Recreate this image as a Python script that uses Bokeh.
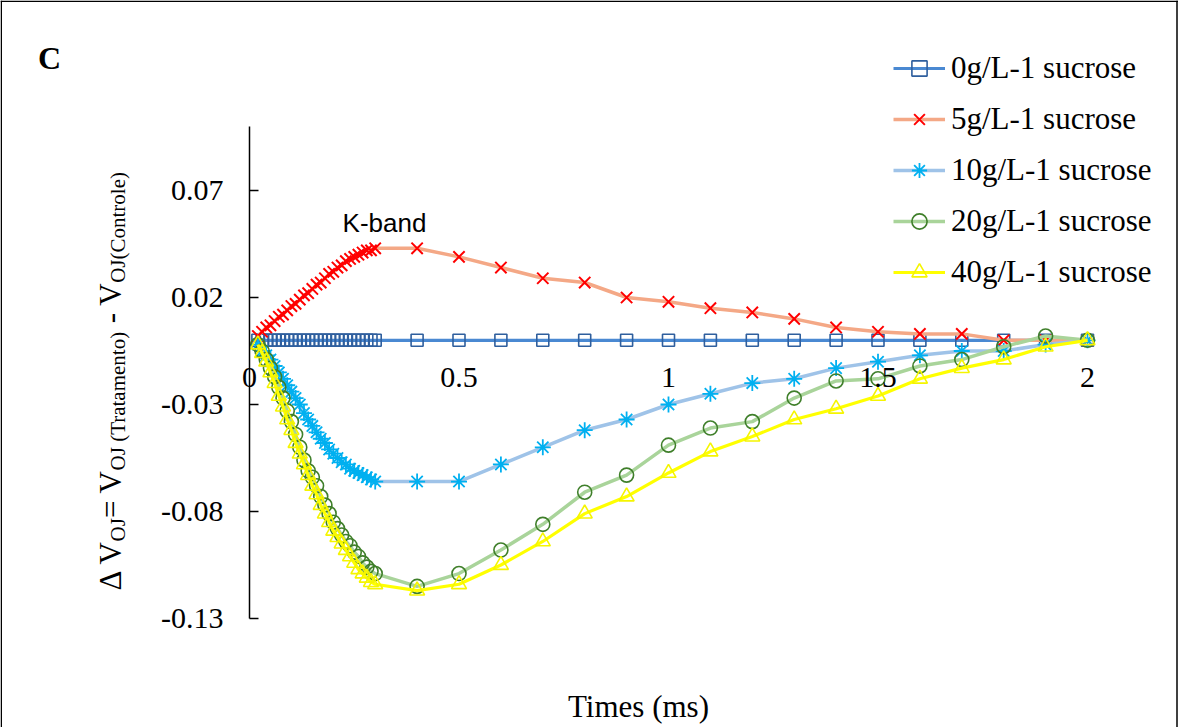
import math
from bokeh.plotting import figure
from bokeh.models import Range1d, FixedTicker, Label, Legend, LegendItem, Span
from bokeh.embed import file_html
from bokeh.resources import INLINE

# ---------------- data ----------------
times = [0.02, 0.03, 0.04, 0.05, 0.06, 0.07, 0.08, 0.09, 0.10, 0.11,
         0.12, 0.13, 0.14, 0.15, 0.16, 0.17, 0.18, 0.19, 0.20, 0.21,
         0.22, 0.23, 0.24, 0.25, 0.26, 0.27, 0.28, 0.29, 0.30,
         0.4, 0.5, 0.6, 0.7, 0.8, 0.9, 1.0, 1.1, 1.2, 1.3, 1.4, 1.5,
         1.6, 1.7, 1.8, 1.9, 2.0]

sucrose_0 = [0.0, 0.0, 0.0, 0.0, 0.0, 0.0, 0.0, 0.0, 0.0, 0.0,
             0.0, 0.0, 0.0, 0.0, 0.0, 0.0, 0.0, 0.0, 0.0, 0.0,
             0.0, 0.0, 0.0, 0.0, 0.0, 0.0, 0.0, 0.0, 0.0,
             0.0, 0.0, 0.0, 0.0, 0.0, 0.0, 0.0, 0.0, 0.0, 0.0, 0.0, 0.0,
             0.0, 0.0, 0.0, 0.0, 0.0]

sucrose_5 = [0.002, 0.004, 0.006, 0.007, 0.009, 0.011, 0.012, 0.014, 0.016, 0.017,
             0.019, 0.021, 0.022, 0.024, 0.026, 0.027, 0.029, 0.031, 0.032, 0.034,
             0.035, 0.037, 0.038, 0.039, 0.040, 0.041, 0.042, 0.042, 0.043,
             0.043, 0.039, 0.034, 0.029, 0.027, 0.020, 0.018, 0.015, 0.013, 0.010,
             0.006, 0.004, 0.003, 0.003, 0.000, 0.000, 0.000]

sucrose_10 = [-0.002, -0.005, -0.007, -0.009, -0.012, -0.015, -0.018, -0.021, -0.024, -0.027,
              -0.030, -0.034, -0.037, -0.040, -0.043, -0.046, -0.048, -0.051, -0.053, -0.055,
              -0.057, -0.058, -0.060, -0.061, -0.062, -0.063, -0.064, -0.065, -0.066,
              -0.066, -0.066, -0.058, -0.050, -0.042, -0.037, -0.030, -0.025, -0.020, -0.018,
              -0.013, -0.010, -0.007, -0.005, -0.005, -0.002, 0.000]

sucrose_20 = [-0.002, -0.005, -0.009, -0.013, -0.017, -0.022, -0.027, -0.033, -0.038, -0.044,
              -0.050, -0.056, -0.061, -0.064, -0.068, -0.073, -0.077, -0.081, -0.085, -0.088,
              -0.091, -0.094, -0.096, -0.099, -0.101, -0.104, -0.106, -0.108, -0.109,
              -0.115, -0.109, -0.098, -0.086, -0.071, -0.063, -0.049, -0.041, -0.038, -0.027,
              -0.019, -0.018, -0.012, -0.009, -0.003, 0.002, 0.000]

sucrose_40 = [-0.002, -0.006, -0.010, -0.015, -0.020, -0.026, -0.031, -0.037, -0.042, -0.048,
              -0.053, -0.058, -0.063, -0.068, -0.072, -0.077, -0.081, -0.085, -0.089, -0.092,
              -0.095, -0.098, -0.101, -0.104, -0.107, -0.109, -0.111, -0.113, -0.114,
              -0.117, -0.114, -0.105, -0.094, -0.081, -0.073, -0.062, -0.052, -0.045, -0.037,
              -0.032, -0.026, -0.018, -0.013, -0.009, -0.003, 0.000]

series_labels = ["0g/L-1 sucrose", "5g/L-1 sucrose", "10g/L-1 sucrose",
                 "20g/L-1 sucrose", "40g/L-1 sucrose"]

x_ticks = [0, 0.5, 1, 1.5, 2]
x_tick_labels = ["0", "0.5", "1", "1.5", "2"]
y_ticks = [-0.13, -0.08, -0.03, 0.02, 0.07]
y_tick_labels = ["-0.13", "-0.08", "-0.03", "0.02", "0.07"]

# ---------------- layout ----------------
W, H = 1178, 727
XPX, YPX = 419.0, 2140.0          # pixels per data unit
XMIN = -249.0 / XPX
XMAX = XMIN + W / XPX
YMAX = 339.8 / YPX
YMIN = YMAX - H / YPX


def dx(px):
    return XMIN + px / XPX


def dy(py):
    return YMAX - py / YPX


SERIF = "Liberation Serif"

p = figure(width=W, height=H, output_backend="svg", toolbar_location=None,
           x_range=Range1d(XMIN, XMAX), y_range=Range1d(YMIN, YMAX),
           min_border=0, background_fill_color="white", border_fill_color="white")
p.outline_line_color = None
p.grid.visible = False

# x axis at y = 0 (its line is hidden by the 0 g/L series, as in the original)
xa = p.xaxis[0]
xa.fixed_location = 0
xa.bounds = (0, 2)
xa.ticker = FixedTicker(ticks=x_ticks)
xa.major_label_overrides = {t: l for t, l in zip(x_ticks, x_tick_labels)}
xa.major_tick_in = 0
xa.major_tick_out = 0
xa.minor_tick_in = 0
xa.minor_tick_out = 0
xa.axis_line_color = None
xa.major_label_standoff = 28
xa.major_label_text_font = SERIF
xa.major_label_text_font_size = "30px"
xa.major_label_text_color = "black"

# y axis at x = 0
ya = p.yaxis[0]
ya.fixed_location = 0
ya.bounds = (-0.13, 0.10)
ya.ticker = FixedTicker(ticks=y_ticks)
ya.major_label_overrides = {t: l for t, l in zip(y_ticks, y_tick_labels)}
ya.major_tick_in = 9
ya.major_tick_out = 0
ya.minor_tick_in = 0
ya.minor_tick_out = 0
ya.axis_line_color = "black"
ya.axis_line_width = 1.5
ya.major_tick_line_width = 1.5
ya.major_label_standoff = 26
ya.major_label_text_font = SERIF
ya.major_label_text_font_size = "30px"
ya.major_label_text_color = "black"

# chart-area border
for loc, dim in ((dx(0.75), "height"), (dx(1176.5), "height")):
    p.add_layout(Span(location=loc, dimension=dim, line_color="black", line_width=1.5))
p.add_layout(Span(location=dy(0.75), dimension="width", line_color="black", line_width=1.5))

# ---------------- series ----------------
styles = [
    dict(data=sucrose_0, line="#4a89d2", lw=3.2, marker="square", mcol="#2f5f9e", size=12, mw=1.6),
    dict(data=sucrose_5, line="#f4a886", lw=3.5, marker="x", mcol="#ff0000", size=16, mw=2.0),
    dict(data=sucrose_10, line="#9fc3e8", lw=3.5, marker="asterisk", mcol="#00b0f0", size=16, mw=1.8),
    dict(data=sucrose_20, line="#a9d49a", lw=3.5, marker="circle", mcol="#3f7f2a", size=14, mw=1.6),
    dict(data=sucrose_40, line="#ffff00", lw=3.2, marker="triangle", mcol="#f5f500", size=15, mw=1.6),
]

items = []
for lab, st in zip(series_labels, styles):
    r_line = p.line(times, st["data"], line_color=st["line"], line_width=st["lw"])
    r_pts = p.scatter(times, st["data"], marker=st["marker"], size=st["size"],
                      line_color=st["mcol"], fill_color=None, line_width=st["mw"])
    items.append(LegendItem(label=lab, renderers=[r_line, r_pts]))

legend = Legend(items=items, location=(893, 435), padding=0, spacing=11,
                glyph_width=52, glyph_height=38, label_height=40, label_standoff=6,
                background_fill_alpha=0, border_line_color=None,
                label_text_font=SERIF, label_text_font_size="31px",
                label_text_color="black")
p.add_layout(legend)

# ---------------- texts ----------------
p.add_layout(Label(x=dx(49), y=dy(57), text="C", text_font=SERIF, text_font_size="32px",
                   text_font_style="bold", text_align="center", text_baseline="middle",
                   text_color="black"))
p.add_layout(Label(x=dx(384), y=dy(222), text="K-band", text_font="Liberation Sans",
                   text_font_size="26px", text_align="center", text_baseline="middle",
                   text_color="black"))
p.add_layout(Label(x=dx(638), y=dy(706), text="Times (ms)", text_font=SERIF,
                   text_font_size="31px", text_align="center", text_baseline="middle",
                   text_color="black"))

# y-axis title built from pieces (main text + subscripts), rotated
EM = {"Δ": 0.612, " ": 0.25, "V": 0.722, "O": 0.722, "J": 0.389, "=": 0.564,
      "(": 0.333, ")": 0.333, "T": 0.611, "r": 0.333, "a": 0.444, "t": 0.278,
      "m": 0.778, "e": 0.444, "n": 0.5, "o": 0.5, "-": 0.333, "C": 0.667, "l": 0.278}
MAIN, SUB = 31, 21
pieces = [("Δ V", MAIN, 0.0), ("OJ", SUB, 0.0), ("= V", MAIN, 0.0),
          ("OJ (Tratamento)", SUB, 0.0), ("- V", MAIN, 0.25 * MAIN), ("OJ(Controle)", SUB, 0.0)]
start_py = 590.0
base_main_px = 110.0
base_sub_px = 117.0
off = 0.0
for txt, size, pre in pieces:
    off += pre
    bx = base_main_px if size == MAIN else base_sub_px
    p.add_layout(Label(x=dx(bx), y=dy(start_py - off), text=txt, angle=math.pi / 2,
                       text_font=SERIF, text_font_size=f"{size}px", text_align="left",
                       text_baseline="alphabetic", text_color="black"))
    off += sum(EM.get(c, 0.5) for c in txt) * size

open("out.html", "w").write(file_html(p, INLINE))
